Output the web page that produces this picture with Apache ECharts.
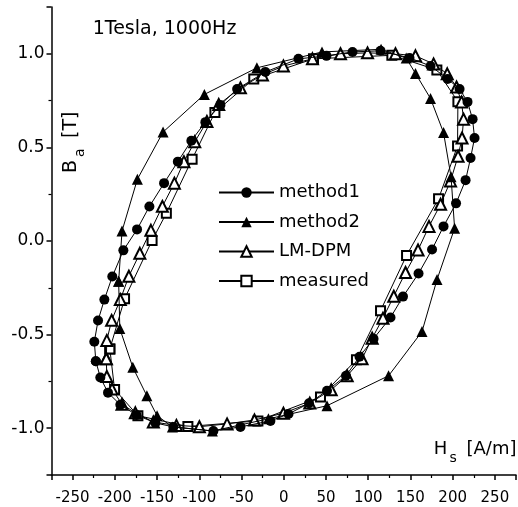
<!DOCTYPE html>
<html><head><meta charset="utf-8">
<script src="https://cdn.jsdelivr.net/npm/echarts@6/dist/echarts.min.js"></script>
<style>html,body{margin:0;padding:0;background:#fff}#c{width:518px;height:507px}</style>
</head><body><div id="c"></div>
<script>
// ---- data (H in A/m, B in T) ----
const seriesNames = ['method1', 'method2', 'LM-DPM', 'measured'];

const method1X = [-222.5,-224.3,-219.9,-212.4,-203.0,-189.9,-173.7,-159.1,-141.7,-125.4,-109.4,-92.8,-75.0,-55.2,-21.7,17.4,50.6,81.4,114.6,148.9,173.8,194.0,208.2,217.6,223.6,225.9,221.2,215.3,204.0,189.2,175.6,159.6,141.2,126.4,106.3,89.7,73.7,51.2,29.9,5.6,-15.8,-51.3,-83.3,-130.7,-152.0,-174.5,-193.5,-208.1,-217.2];
const method1Y = [-0.642,-0.538,-0.425,-0.313,-0.190,-0.050,0.062,0.184,0.309,0.424,0.536,0.635,0.727,0.812,0.903,0.973,0.989,1.010,1.016,0.978,0.935,0.866,0.812,0.743,0.651,0.550,0.443,0.325,0.201,0.078,-0.045,-0.174,-0.297,-0.409,-0.522,-0.618,-0.720,-0.800,-0.867,-0.924,-0.961,-0.993,-1.015,-0.993,-0.972,-0.929,-0.875,-0.810,-0.729];

const method2X = [-195.5,-191.5,-173.3,-142.9,-94.0,-31.8,45.3,115.2,145.0,156.0,173.8,189.2,198.1,202.3,181.5,163.7,124.1,51.2,-18.1,-84.5,-131.9,-150.0,-162.1,-178.7,-194.1];
const method2Y = [-0.215,0.053,0.330,0.582,0.783,0.925,1.010,1.024,0.977,0.895,0.761,0.579,0.343,0.068,-0.206,-0.484,-0.720,-0.880,-0.950,-1.015,-0.993,-0.933,-0.827,-0.675,-0.468];

const lmdpmX = [-210.1,-209.5,-203.8,-193.5,-183.4,-170.4,-157.3,-143.7,-129.5,-118.2,-105.4,-91.0,-77.0,-51.3,-25.2,-0.4,34.0,67.2,99.2,132.3,156.0,177.4,193.6,204.6,210.5,212.9,211.1,206.4,197.5,185.7,172.0,159.0,144.2,130.3,117.5,104.7,92.7,75.1,56.2,30.8,-0.4,-34.7,-67.1,-99.9,-127.1,-154.4,-175.7,-191.5,-203.3,-209.5];
const lmdpmY = [-0.629,-0.531,-0.424,-0.313,-0.188,-0.066,0.057,0.185,0.309,0.424,0.530,0.638,0.729,0.818,0.887,0.935,0.973,1.000,1.005,1.000,0.989,0.946,0.893,0.823,0.743,0.651,0.550,0.453,0.321,0.196,0.078,-0.048,-0.168,-0.295,-0.412,-0.519,-0.629,-0.720,-0.795,-0.866,-0.920,-0.956,-0.977,-0.992,-0.985,-0.967,-0.918,-0.872,-0.791,-0.724];

const measuredX = [-205.9,-188.5,-155.9,-139.0,-108.5,-81.5,-35.5,35.2,128.0,181.3,206.2,205.8,183.3,145.4,114.6,86.1,43.5,-30.6,-113.5,-172.7,-200.3];
const measuredY = [-0.577,-0.309,0.003,0.148,0.437,0.687,0.866,0.973,0.992,0.914,0.744,0.508,0.226,-0.077,-0.372,-0.634,-0.833,-0.961,-0.991,-0.933,-0.793];

const titleText = '1Tesla, 1000Hz';
const xRange = [-275, 275];
const yRange = [-1.25, 1.25];

// ---- chart ----
function loop(xs, ys) {
  const d = xs.map((x, i) => [x, ys[i]]);
  d.push([xs[0], ys[0]]);
  return d;
}
const FONT = 'DejaVu Sans';
const chart = echarts.init(document.getElementById('c'), null, {renderer: 'canvas'});
const baseLine = {color: '#000', width: 1};
chart.setOption({
  animation: false,
  backgroundColor: '#fff',
  grid: {left: 51.5, right: 2, top: 7, bottom: 32, containLabel: false},
  xAxis: {
    type: 'value', min: xRange[0], max: xRange[1], splitNumber: 11,
    axisLine: {onZero: false, lineStyle: {color: '#000', width: 1.5}},
    axisTick: {length: 5, lineStyle: {color: '#000', width: 1.5}},
    minorTick: {show: true, splitNumber: 2, length: 3, lineStyle: {color: '#000', width: 1.2}},
    splitLine: {show: false},
    axisLabel: {showMinLabel: false, showMaxLabel: false, color: '#000', fontSize: 15, fontFamily: FONT, margin: 16}
  },
  yAxis: {
    type: 'value', min: yRange[0], max: yRange[1], splitNumber: 5,
    axisLine: {onZero: false, lineStyle: {color: '#000', width: 1.5}},
    axisTick: {length: 5, lineStyle: {color: '#000', width: 1.5}},
    minorTick: {show: true, splitNumber: 2, length: 3, lineStyle: {color: '#000', width: 1.2}},
    splitLine: {show: false},
    axisLabel: {showMinLabel: false, showMaxLabel: false, color: '#000', fontSize: 17, fontFamily: FONT, margin: 7,
      formatter: v => v.toFixed(1)}
  },
  legend: {
    orient: 'vertical', left: 218, top: 183.5, padding: 0, itemWidth: 55, itemHeight: 13, itemGap: 11.5,
    selectedMode: false, data: seriesNames,
    textStyle: {color: '#000', fontSize: 18, fontFamily: FONT}
  },
  series: [
    {name: seriesNames[3], type: 'line', data: loop(measuredX, measuredY), symbol: 'emptyRect', symbolSize: 9,
      itemStyle: {color: '#000', borderWidth: 1.3}, lineStyle: baseLine, z: 2},
    {name: seriesNames[2], type: 'line', data: loop(lmdpmX, lmdpmY), symbol: 'emptyTriangle', symbolSize: 11,
      itemStyle: {color: '#000', borderWidth: 1.3}, lineStyle: baseLine, z: 3},
    {name: seriesNames[0], type: 'line', data: loop(method1X, method1Y), symbol: 'circle', symbolSize: 10,
      itemStyle: {color: '#000', borderWidth: 0}, lineStyle: baseLine, z: 4},
    {name: seriesNames[1], type: 'line', data: loop(method2X, method2Y), symbol: 'triangle', symbolSize: 11,
      itemStyle: {color: '#000', borderWidth: 0}, lineStyle: baseLine, z: 5}
  ],
  graphic: {elements: [
    {type: 'text', x: 92.7, y: 29, style: {text: titleText, fill: '#000', fontSize: 19, fontFamily: FONT,
      textVerticalAlign: 'middle', verticalAlign: 'middle'}},
    {type: 'text', x: 433.7, y: 449, style: {text: 'H', fill: '#000', fontSize: 18, fontFamily: FONT,
      textVerticalAlign: 'middle', verticalAlign: 'middle'}},
    {type: 'text', x: 449.5, y: 458, style: {text: 's', fill: '#000', fontSize: 14, fontFamily: FONT,
      textVerticalAlign: 'middle', verticalAlign: 'middle'}},
    {type: 'text', x: 466.5, y: 449, style: {text: '[A/m]', fill: '#000', fontSize: 18, fontFamily: FONT,
      textVerticalAlign: 'middle', verticalAlign: 'middle'}},
    {type: 'group', x: 78, y: 173, rotation: Math.PI / 2, children: [
      {type: 'text', x: 0, y: -6.5, style: {text: 'B', fill: '#000', fontSize: 19, fontFamily: FONT,
        textVerticalAlign: 'middle', verticalAlign: 'middle'}},
      {type: 'text', x: 16, y: 2.3, style: {text: 'a', fill: '#000', fontSize: 14, fontFamily: FONT,
        textVerticalAlign: 'middle', verticalAlign: 'middle'}},
      {type: 'text', x: 35, y: -6.5, style: {text: '[T]', fill: '#000', fontSize: 19, fontFamily: FONT,
        textVerticalAlign: 'middle', verticalAlign: 'middle'}}
    ]}
  ]}
});
</script>
</body></html>
